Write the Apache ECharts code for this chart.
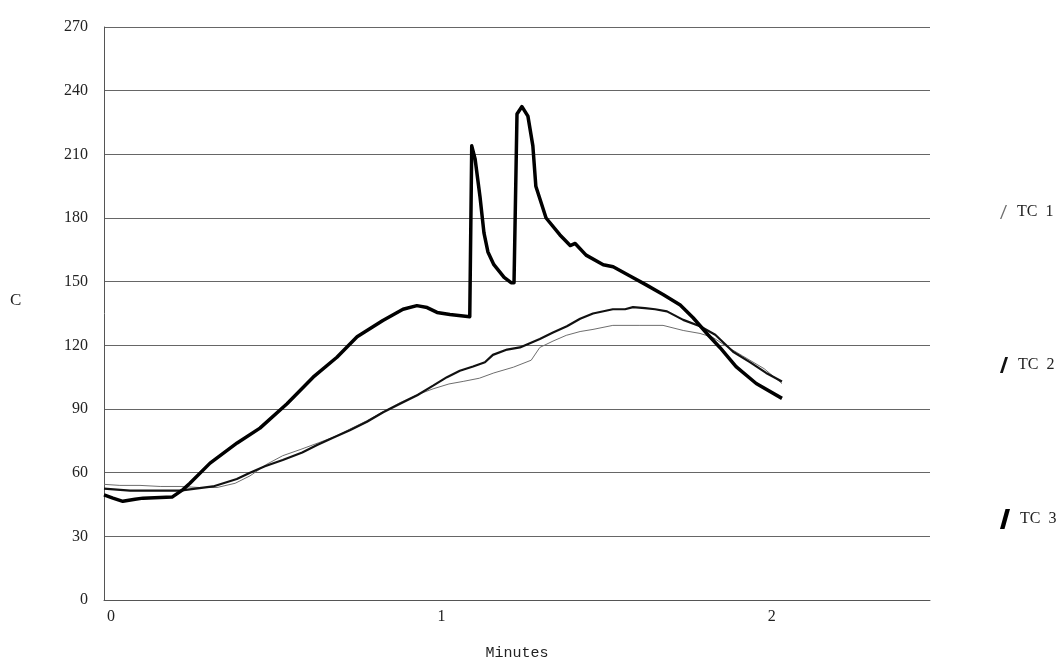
<!DOCTYPE html>
<html><head><meta charset="utf-8">
<script src="https://cdn.jsdelivr.net/npm/echarts@6/dist/echarts.min.js"></script>
<style>html,body{margin:0;padding:0;background:#fff}#c{width:1064px;height:666px}</style>
</head><body><div id="c"></div>
<script>
// Time in minutes, temperature in C
const tc1X = [0,0.048,0.109,0.170,0.230,0.290,0.342,0.397,0.442,0.493,0.541,0.596,0.648,0.699,0.744,0.796,0.848,0.896,0.944,0.996,1.044,1.087,1.136,1.180,1.239,1.293,1.319,1.359,1.399,1.441,1.480,1.540,1.622,1.692,1.753,1.804,1.843,1.879,1.933,1.998,2.052];
const tc1Y = [54.5,54,54,53.5,53.5,53,53,55,58.5,64,68,71,74,77,80.5,84.5,89,93,96.5,99.5,101.8,103,104.5,107,109.7,113,119,122,124.7,126.5,127.5,129.4,129.4,129.4,127,125.6,123.7,120,115,109,102];

const tc2X = [0,0.079,0.139,0.230,0.330,0.402,0.442,0.487,0.541,0.600,0.645,0.693,0.744,0.796,0.845,0.896,0.948,0.996,1.038,1.077,1.117,1.153,1.177,1.220,1.259,1.289,1.319,1.359,1.401,1.441,1.480,1.540,1.577,1.601,1.637,1.668,1.704,1.753,1.804,1.850,1.904,1.956,2.004,2.052];
const tc2Y = [52.5,51.5,51.5,51.5,53.5,57,60,63,66,69.5,73,76.5,80,84,88.5,92.5,96.5,101,105,108,110,112,115.5,118,119,121,123,126,129,132.5,135,137,137,138,137.5,137,136,132,129,125,117,112,107,103];

const tc3X = [0,0.027,0.057,0.094,0.118,0.206,0.239,0.260,0.321,0.403,0.472,0.554,0.633,0.705,0.766,0.844,0.905,0.947,0.978,1.008,1.047,1.107,1.113,1.123,1.138,1.150,1.162,1.180,1.211,1.232,1.241,1.250,1.265,1.283,1.298,1.307,1.338,1.380,1.411,1.426,1.459,1.511,1.541,1.592,1.641,1.692,1.744,1.783,1.828,1.864,1.913,1.974,2.052];
const tc3Y = [49.5,48,46.5,47.5,48,48.5,52,55,64.5,74,81,92.5,105,114.4,124,131.7,137,138.7,137.8,135.5,134.5,133.5,214,208,190,173,164,158,152,149.5,149.5,229,232.5,228,214,195,180,172,167,168,162.5,158,157,152.7,148.5,144,139,133,125,119,110,102,95];

const xTicks = [0,1,2];
const yMin = 0, yMax = 270, yStep = 30;

const pairs = (xs, ys) => xs.map((x, i) => [x, ys[i]]);
const serifFont = '"Liberation Serif", "DejaVu Serif", serif';
const legendText = {fontFamily: serifFont, fontSize: 16, color: '#222', padding: [0,0,0,5]};
const spaced = n => n.replace(' ', '  ');

const chart = echarts.init(document.getElementById('c'), null, {renderer: 'canvas'});
chart.setOption({
  animation: false,
  backgroundColor: '#fff',
  grid: {left: 104, right: 134, top: 27, bottom: 61, containLabel: false},
  xAxis: {
    type: 'value', min: 0, max: 2.5, interval: 1,
    name: 'Minutes', nameLocation: 'middle', nameGap: 46,
    nameTextStyle: {fontFamily: '"Liberation Mono", "DejaVu Sans Mono", monospace', fontSize: 15, color: '#222'},
    axisLine: {show: true, lineStyle: {color: '#555', width: 1}},
    axisTick: {show: false},
    splitLine: {show: false},
    axisLabel: {
      showMaxLabel: false, margin: 9, padding: [0,0,0,14],
      fontFamily: serifFont, fontSize: 16, color: '#222',
      formatter: v => xTicks.includes(v) ? String(v) : ''
    }
  },
  yAxis: {
    type: 'value', min: yMin, max: yMax, interval: yStep,
    axisLine: {show: true, lineStyle: {color: '#555', width: 1}},
    axisTick: {show: false},
    splitLine: {show: true, lineStyle: {color: '#666', width: 1}},
    axisLabel: {margin: 16, fontFamily: serifFont, fontSize: 16, color: '#222'}
  },
  legend: [
    {left: 995, top: 199, itemWidth: 7, itemHeight: 16, itemGap: 0, textStyle: legendText, formatter: spaced,
     data: [{name: 'TC 1', icon: 'path://M8,0 L10,0 L2,20 L0,20 Z'}], selectedMode: false},
    {left: 995, top: 352, itemWidth: 8, itemHeight: 19, itemGap: 0, textStyle: legendText, formatter: spaced,
     data: [{name: 'TC 2', icon: 'path://M6.5,0 L10,0 L3.5,20 L0,20 Z'}], selectedMode: false},
    {left: 995, top: 504, itemWidth: 10, itemHeight: 22, itemGap: 0, textStyle: legendText, formatter: spaced,
     data: [{name: 'TC 3', icon: 'path://M5.5,0 L10,0 L4.5,20 L0,20 Z'}], selectedMode: false}
  ],
  graphic: [
    {type: 'text', left: 10, top: 292, style: {text: 'C', fontFamily: serifFont, fontSize: 17, fill: '#222'}}
  ],
  series: [
    {name: 'TC 1', type: 'line', data: pairs(tc1X, tc1Y), showSymbol: false, lineStyle: {color: '#6e6e6e', width: 1}, itemStyle: {color: '#6e6e6e'}, z: 3},
    {name: 'TC 2', type: 'line', data: pairs(tc2X, tc2Y), showSymbol: false, lineStyle: {color: '#111', width: 2.2}, itemStyle: {color: '#111'}, z: 4},
    {name: 'TC 3', type: 'line', data: pairs(tc3X, tc3Y), showSymbol: false, lineStyle: {color: '#000', width: 3.5, join: 'round'}, itemStyle: {color: '#000'}, z: 5}
  ]
});
</script></body></html>
